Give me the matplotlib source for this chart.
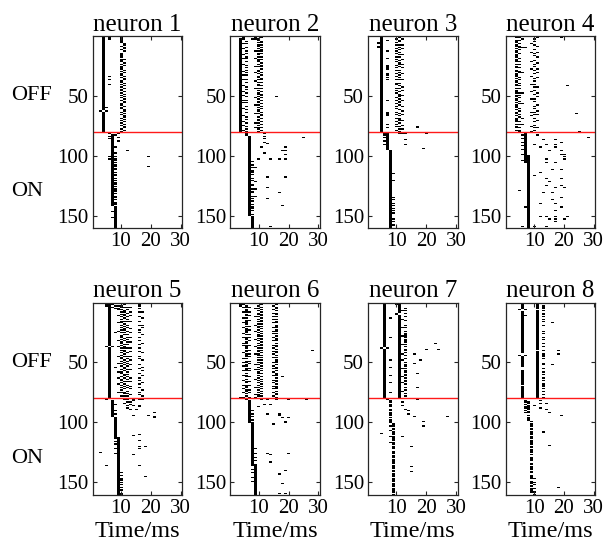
import numpy as np
import matplotlib
matplotlib.use("Agg")
import matplotlib.pyplot as plt

plt.rcParams['font.family'] = ['Liberation Serif', 'DejaVu Serif']

# ---------------- data: spike rasters (trial 1..160, time bin in ms 1..30) ----------------
titles = ["neuron 1", "neuron 2", "neuron 3", "neuron 4",
          "neuron 5", "neuron 6", "neuron 7", "neuron 8"]
xticks = [10, 20, 30]
yticks = [50, 100, 150]
switch_trial = 80
off_label_trial = 50
on_label_trial = 130

# runs: (first trial, last trial, time bin) continuous spike columns
# patterns: (first trial, time bin, per-trial string: '#' spike, '.' none)
# dots: (trial, time bin) isolated spikes

n1_runs = [(1, 62, 4), (64, 80, 4), (83, 142, 7), (143, 160, 8)]
n1_patterns = [
    (1, 10, "######..#. .#..####.# ##.#.###.# .##.#..##. #.#.##.#.# .#.#..##.# #..#.#..#. #.#.#..#.#"),
    (1, 11, "......##.# #.#......# ..#.#...#. #..#.##..# .#.#..#.#. #.#.##..#. .##.#.##.# .#.#.##.#."),
    (81, 8, "..#....... ..#....#.. #.##.#.##. ##.#.##.#. #.##.#.### .#.##.#.## #."),
]
n1_dots = [(63, 3), (63, 5), (2, 6), (3, 6), (34, 6), (37, 6), (41, 6), (60, 5), (1, 14),
           (82, 6), (84, 6), (86, 6), (101, 6), (103, 6), (82, 9), (85, 9), (88, 9),
           (96, 12), (101, 19), (109, 19), (147, 7), (152, 7)]

n2_runs = [(3, 80, 4), (84, 150, 7), (151, 160, 8)]
n2_patterns = [
    (1, 5, "..#...#... #....#..#. ...#.....# ..#...#... .#....#..# ...#.#.... #.....#... .#..#...#."),
    (1, 6, "#...#.#..# ..#.#..##. .#..#.#.#. #.#...#.#. ..#.#..#.. #..#.#..#. .#.#...#.# ..#..#.#.#"),
    (1, 9, "#.#....... ..#.....#. .....#.... #......#.. ...#...... .#.....#.. ....#..... ..#...#..."),
    (1, 10, "#.##.#.##. #.#.##.#.# ##.#.#..## .#.##.#.#. ##.#.#.##. #.#.##.#.# .##.#..#.# #.#.#.##.#"),
    (1, 11, ".#..##.#.# .##.#..#.# ..#.##.#.. #.#..##.#. .#.#..#.## .#.#..#.#. #..#.##.#. .#.#..#.#."),
    (81, 12, "##.#.#..#"),
    (105, 8, "#..#.#..## .#..#.#..# #..#.##..# .#.#..#.## .#..#."),
]
n2_dots = [(1, 6), (1, 7), (1, 8), (2, 5), (2, 9), (3, 8), (1, 15), (51, 16), (81, 5), (82, 6),
           (83, 6), (85, 25), (90, 13), (93, 19), (93, 11), (96, 18), (96, 19), (98, 12),
           (99, 19), (103, 19), (103, 10), (103, 14), (103, 17), (110, 9), (118, 13),
           (118, 19), (127, 13), (131, 17), (136, 13), (142, 18), (159, 14), (122, 9),
           (128, 9), (134, 9)]

n3_runs = [(2, 80, 5), (84, 95, 7), (96, 160, 8)]
n3_patterns = [
    (1, 10, "#.#..#.#.. #.#.#..#.# .#..#.#.#. .#.#..#..# #..#.#.#.. .#.#..#.#. #..#.#..#. .#.#.#..#."),
    (1, 11, ".#.##..#.# .#.#.#.#.. #.##.#..#. #.#.#.#..# .#.#..#.## #.#.##.#.. .#..#.#.## #.#..#.#.#"),
    (1, 12, "..#....#.. #....#...# ...#..#... .#....#... ..#..#...# ...#....#. ..#..#.... #...#..#.."),
]
n3_dots = [(1, 5), (6, 4), (7, 4), (9, 4), (10, 4), (4, 7), (13, 7), (19, 7), (25, 7), (26, 7),
           (27, 7), (28, 7), (32, 7), (33, 7), (35, 7), (37, 7), (54, 7), (64, 7), (65, 7),
           (66, 7), (67, 7), (74, 7), (77, 7), (76, 17), (77, 17), (82, 6), (82, 7), (83, 6),
           (83, 7), (82, 11), (82, 12), (82, 13), (82, 20), (87, 13), (91, 13), (94, 19),
           (85, 6), (88, 6), (91, 6), (115, 9), (121, 9), (135, 9), (137, 9), (140, 9),
           (142, 9), (144, 9), (146, 9), (148, 9), (153, 9), (155, 9), (158, 9)]

n4_runs = [(82, 106, 7), (100, 160, 8)]
n4_patterns = [
    (1, 4, "##.###.##. #.##.###.# ##.#.##.## .###.#.##. ##.#.###.# #.##.#.### .#.##.#.## ##.#.##.#."),
    (1, 5, ".#.#..#.## .#..#...#. .#.#..#..# #...#.#..# .#.#...#.# .#..#.#... #.#..#.#.. .#.#..#.##"),
    (1, 9, "#.....#... ...#...... .#.....#.. ...#...... #.....#... ..#....... ...#..#... .....#...#"),
    (1, 10, "#.#.#..#.. .#..#.#... #..#.#..#. .#...#.#.. #.#..#..#. ..#.#...#. #..#.#..#. .#..#.#.#."),
    (1, 11, ".#......#. ...#...#.. ..#....#.. #...#..... ..#....#.. #......#.. ..#..#.... #.....#..."),
]
n4_dots = [(2, 19), (3, 6), (10, 6), (10, 7), (31, 6), (48, 6), (57, 6), (69, 6), (74, 6),
           (42, 21), (65, 24), (80, 25), (81, 9), (81, 13), (81, 20), (83, 11), (85, 28),
           (87, 13), (87, 17), (89, 19), (91, 10), (91, 14), (91, 17), (93, 12), (93, 17),
           (96, 15), (96, 19), (99, 19), (99, 20), (101, 20), (103, 14), (103, 20), (106, 14),
           (106, 17), (112, 16), (112, 19), (114, 12), (117, 10), (119, 14), (119, 19),
           (122, 15), (125, 14), (125, 19), (127, 17), (127, 20), (129, 5), (131, 13),
           (131, 16), (135, 19), (137, 16), (140, 12), (140, 17), (143, 7), (143, 19),
           (146, 17), (151, 12), (151, 14), (151, 17), (151, 21), (153, 15), (153, 17),
           (153, 20), (155, 17), (159, 6), (159, 10), (159, 14), (83, 6), (86, 6), (89, 6),
           (92, 6), (95, 6), (99, 6), (104, 6)]

n5_runs = [(1, 36, 6), (38, 80, 6), (82, 95, 7), (96, 112, 8), (113, 160, 9)]
n5_patterns = [
    (1, 9, "..#....... #.....#... ...#...... .#....#... ....#..... #......#.. ..#....#.. ....#....."),
    (1, 10, "#.##.#.#.# .#.#.##.#. #.#.#..##. #.##.#.#.# .#.#.##.#. #.#..#.##. .#.##.#.#. #.#.#..#.#"),
    (1, 11, ".#.#..##.# #.#..#.#.# .##.#.#..# .#..#.##.# #.#.#..#.# .#.##.#..# #.#..#.#.# .#..##.#.."),
    (1, 12, "#..#.#..#. .#.#.#..#. #..#..#.#. #.#.#..#.. .#..#.#.#. #.#..#.#.# .#.#.#..#. #..#.#.#.#"),
    (1, 13, "...#...#.. #....#.... .#..#...#. ..#....#.. #...#..#.. .#...#.... ..#..#...# .#....#..."),
    (1, 16, "###.#..#.. .#...#..#. ..#.#...#. .#..#..#.. #...#.#... .#..#...#. ..#.#..#.. #...#.#..."),
    (1, 17, ".......#.. ..#.....#. #.....#... ...#...... .#.....#.. ...#..#... #.....#... ..#....#.."),
    (113, 8, "#..#.#...#...#"),
    (140, 10, "..#.#..##. #.#.#.##.# #"),
]
n5_dots = [(2, 5), (3, 5), (2, 7), (4, 7), (3, 8), (5, 8), (5, 9), (6, 9), (37, 5), (37, 7),
           (25, 8), (54, 8), (80, 5), (81, 5), (81, 11), (81, 12), (81, 14), (81, 16),
           (81, 17), (82, 14), (83, 12), (83, 13), (84, 11), (85, 13), (86, 12), (86, 14),
           (86, 16), (87, 16), (88, 12), (89, 13), (89, 15), (92, 21), (94, 14), (94, 19),
           (95, 21), (96, 21), (110, 16), (111, 14), (115, 16), (120, 16), (120, 18),
           (122, 16), (125, 3), (127, 14), (136, 16), (136, 5), (145, 18), (85, 8), (90, 8),
           (93, 8)]

n6_runs = [(82, 100, 7), (101, 135, 8), (136, 160, 9)]
n6_patterns = [
    (1, 5, "##.#...#.. ..#...#... #....#..#. ...#.#.... .#....#..# ..#...#... #...#...#. .#..#...##"),
    (1, 6, "..##.###.# #.#.####.# .####.#.## #.##.###.# #.###.#.## .##.###.#. ##.#.##.## #.##.#.#.#"),
    (1, 7, "...#...#.. #...#....# ..#...#.#. .#...#...# ..#.#...#. #...#.#... .#...#..#. ..#.#...#."),
    (1, 9, "....#..... .#......#. ...#...... #.....#... ..#....... .#...#.... ...#...... #.....#.#."),
    (1, 10, "#.#.#.#.## .#.#.#.#.# #.#.#.##.# .#.#.#.#.# #.##.#.#.# .#.#.#.##. #.#.#.#.#. #.#.#.##.#"),
    (1, 11, ".#.#.#.#.# #.#.##.#.# .#.#.#.#.# #.#.##.#.# .#.#.#.#.# #.#.#.#.#. .#.#.#.#.# .#.#.#.#.#"),
    (1, 15, "#.#..#..#. .#.#..#... #..#.#..#. .#...#.#.. #.#..#...# ..#.#..#.. #...#.#..# .#..#..#.."),
    (1, 16, "##.##.#.## .#.#.##.## #.##.#.#.# ##.#.##.#. ##.#.#.### .#.##.#.## #.#.##.#.# ##.#.##.#."),
    (88, 8, "..#..#.#..#.#"),
    (120, 9, "..#...#..#..#..#"),
    (136, 8, "#..#..#...#..#"),
]
n6_dots = [(1, 4), (2, 4), (3, 4), (1, 18), (1, 20), (40, 28), (62, 18), (79, 4), (80, 6),
           (81, 6), (81, 11), (81, 13), (81, 16), (81, 20), (81, 26), (85, 12), (85, 14),
           (87, 10), (93, 13), (93, 17), (94, 17), (96, 18), (96, 20), (99, 19), (100, 19),
           (101, 15), (102, 15), (126, 13), (127, 14), (126, 20), (133, 14), (140, 19),
           (143, 17), (151, 18), (159, 17), (159, 19)]

n7_runs = [(1, 37, 6), (39, 80, 6), (1, 8, 11), (11, 80, 11)]
n7_patterns = [
    (1, 12, "......#... ...#...... #......#.. ....#..... ..#....#.. ....#..... .#....#... ...#......"),
    (1, 13, "....#.#.#. .#..#...#. #..#.####. ###.#.#.## .#.#..#..# .##.#.##.# #.#.##.#.. #.#..#.#.."),
    (82, 8, "##.###.##.###.#.###"),
    (101, 9, "###.##.### .####.##.# ##.###.##. ####.###.# #.###.###. ###.####.#"),
    (101, 8, "..#...#....#....#..."),
]
n7_dots = [(38, 5), (38, 7), (2, 10), (9, 10), (10, 10), (13, 8), (29, 8), (48, 8), (54, 8),
           (61, 8), (67, 8), (75, 8), (34, 23), (39, 20), (39, 24), (43, 16), (48, 18),
           (51, 16), (59, 17), (71, 17), (80, 21), (81, 17), (83, 12), (86, 12), (89, 13),
           (90, 14), (93, 14), (95, 16), (99, 19), (103, 19), (95, 27), (109, 5), (112, 12),
           (120, 15), (137, 15), (141, 15), (81, 7)]

n8_runs = [(1, 5, 6), (8, 42, 6), (45, 53, 6), (57, 68, 6), (70, 80, 6),
           (1, 5, 11), (7, 39, 11), (41, 80, 11)]
n8_patterns = [
    (1, 13, "..###.#.## .#.#.#..#. ...#.#..#. #..#..#..# ..###.#... ##..#..#.# ..#.#..### .#.#..#.#."),
    (81, 7, ".##.#.##.#.#"),
    (83, 8, "##.####.##.#.###"),
    (99, 9, "#.###.##.# ##.##.####. ##.###.#.# ###.##.### .##.####.# ##.#.####."),
    (145, 10, "..#..#.#..#..#.#"),
]
n8_dots = [(6, 5), (6, 7), (44, 5), (44, 7), (11, 7), (17, 16), (40, 18), (43, 18), (52, 16),
           (80, 13), (80, 14), (80, 17), (80, 20), (82, 12), (84, 12), (84, 14), (86, 10),
           (88, 12), (89, 14), (92, 15), (94, 19), (108, 13), (119, 15), (154, 18)]

neurons = [
    (n1_runs, n1_patterns, n1_dots), (n2_runs, n2_patterns, n2_dots),
    (n3_runs, n3_patterns, n3_dots), (n4_runs, n4_patterns, n4_dots),
    (n5_runs, n5_patterns, n5_dots), (n6_runs, n6_patterns, n6_dots),
    (n7_runs, n7_patterns, n7_dots), (n8_runs, n8_patterns, n8_dots),
]

N_TRIALS = 160
N_BINS = 30


def build_raster(runs, patterns, dots):
    m = np.zeros((N_TRIALS, N_BINS))
    for a, b, t in runs:
        m[a - 1:b, t - 1] = 1
    for first, t, s in patterns:
        s = s.replace(" ", "")
        for i, ch in enumerate(s):
            tr = first + i
            if ch == "#" and 1 <= tr <= N_TRIALS:
                m[tr - 1, t - 1] = 1
    for tr, t in dots:
        m[tr - 1, t - 1] = 1
    return m


# ---------------- figure ----------------
W, H = 610, 545
fig = plt.figure(figsize=(W / 100, H / 100), dpi=100)

ax_w = 89.5
ax_h = 192.0
lefts = [92.7 + 137.7 * k for k in range(4)]
tops = [36.3, 302.7]

for idx, (runs, patterns, dots) in enumerate(neurons):
    r, c = divmod(idx, 4)
    L = lefts[c]
    T = tops[r]
    ax = fig.add_axes([L / W, 1 - (T + ax_h) / H, ax_w / W, ax_h / H])
    m = build_raster(runs, patterns, dots)
    ax.imshow(m, cmap="gray_r", vmin=0, vmax=1, aspect="auto",
              interpolation="nearest",
              extent=(0.5, N_BINS + 0.5, N_TRIALS + 0.5, 0.5))
    ax.axhline(switch_trial, color="#ff1a1a", lw=1.0)
    ax.set_xlim(0.5, N_BINS + 0.5)
    ax.set_ylim(N_TRIALS + 0.5, 0.5)
    ax.set_xticks(xticks)
    ax.set_yticks(yticks)
    ax.tick_params(direction="in", length=3, width=0.8, top=True, right=True,
                   labelsize=15, pad=3, colors="#262626", labelcolor="black")
    for sp in ax.spines.values():
        sp.set_color("#262626")
        sp.set_linewidth(0.9)
    ax.set_title(titles[idx], fontsize=18, pad=4)
    if r == 1:
        ax.set_xlabel("Time/ms", fontsize=17.5, labelpad=2)
    if c == 0:
        ax.annotate("OFF", xy=(11.5 / W, off_label_trial),
                    xycoords=("figure fraction", "data"),
                    ha="left", va="center", fontsize=16, annotation_clip=False)
        ax.annotate("ON", xy=(11.5 / W, on_label_trial),
                    xycoords=("figure fraction", "data"),
                    ha="left", va="center", fontsize=16, annotation_clip=False)

fig.savefig("out.png", dpi=100)
